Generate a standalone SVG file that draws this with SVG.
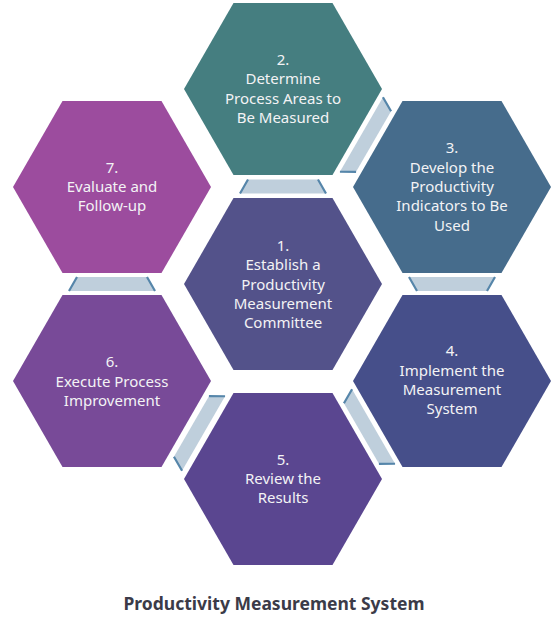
<svg xmlns="http://www.w3.org/2000/svg" xmlns:xlink="http://www.w3.org/1999/xlink" width="553" height="618" viewBox="0 0 553 618">
  <defs>
    <polygon id="hex" points="-99,0 -49.5,-86 49.5,-86 99,0 49.5,86 -49.5,86"/>
    <g id="trap">
      <polygon points="-35,-7 35,-7 43,7 -43,7" fill="#bfcfdc"/>
      <path d="M-35,-7 L-43,7 M35,-7 L43,7" stroke="#5686aa" stroke-width="2.2" fill="none"/>
    </g>
  </defs>
  <style>
    .t { font-family: "Noto Sans", "Open Sans", "Liberation Sans", sans-serif; font-size: 15px; fill: #f3f3f5; text-anchor: middle; }
    .title { font-family: "Noto Sans", "Open Sans", "Liberation Sans", sans-serif; font-size: 17.5px; font-weight: bold; fill: #3b3b48; text-anchor: middle; }
  </style>
  <rect width="553" height="618" fill="#ffffff"/>

  <g id="connectors">
    <use href="#trap" transform="translate(283,186.5)"/>
    <use href="#trap" transform="translate(367.5,138) rotate(120)"/>
    <use href="#trap" transform="translate(452,284) rotate(180)"/>
    <use href="#trap" transform="translate(367.5,430) rotate(240)"/>
    <use href="#trap" transform="translate(197.5,430) rotate(300)"/>
    <use href="#trap" transform="translate(112,284)"/>
  </g>

  <g id="node1">
    <use href="#hex" transform="translate(283,284)" fill="#53528a"/>
    <text class="t" x="283" y="251">1.</text>
    <text class="t" x="283" y="270.3">Establish a</text>
    <text class="t" x="283" y="289.6">Productivity</text>
    <text class="t" x="283" y="308.9">Measurement</text>
    <text class="t" x="283" y="328.2">Committee</text>
  </g>

  <g id="node2">
    <use href="#hex" transform="translate(283,89)" fill="#457e80"/>
    <text class="t" x="283" y="65">2.</text>
    <text class="t" x="283" y="84.3">Determine</text>
    <text class="t" x="283" y="103.6">Process Areas to</text>
    <text class="t" x="283" y="122.9">Be Measured</text>
  </g>

  <g id="node3">
    <use href="#hex" transform="translate(452,187)" fill="#466c8c"/>
    <text class="t" x="452" y="153.4">3.</text>
    <text class="t" x="452" y="172.7">Develop the</text>
    <text class="t" x="452" y="192">Productivity</text>
    <text class="t" x="452" y="211.3">Indicators to Be</text>
    <text class="t" x="452" y="230.6">Used</text>
  </g>

  <g id="node4">
    <use href="#hex" transform="translate(452,381)" fill="#464f8a"/>
    <text class="t" x="452" y="356.3">4.</text>
    <text class="t" x="452" y="375.6">Implement the</text>
    <text class="t" x="452" y="394.9">Measurement</text>
    <text class="t" x="452" y="414.2">System</text>
  </g>

  <g id="node5">
    <use href="#hex" transform="translate(283,479)" fill="#5a4690"/>
    <text class="t" x="283" y="464.7">5.</text>
    <text class="t" x="283" y="484">Review the</text>
    <text class="t" x="283" y="503.3">Results</text>
  </g>

  <g id="node6">
    <use href="#hex" transform="translate(112,381)" fill="#784a98"/>
    <text class="t" x="112" y="367.2">6.</text>
    <text class="t" x="112" y="386.5">Execute Process</text>
    <text class="t" x="112" y="405.8">Improvement</text>
  </g>

  <g id="node7">
    <use href="#hex" transform="translate(112,187)" fill="#9c4c9e"/>
    <text class="t" x="112" y="172.7">7.</text>
    <text class="t" x="112" y="192">Evaluate and</text>
    <text class="t" x="112" y="211.3">Follow-up</text>
  </g>

  <text class="title" x="274" y="610">Productivity Measurement System</text>
</svg>
